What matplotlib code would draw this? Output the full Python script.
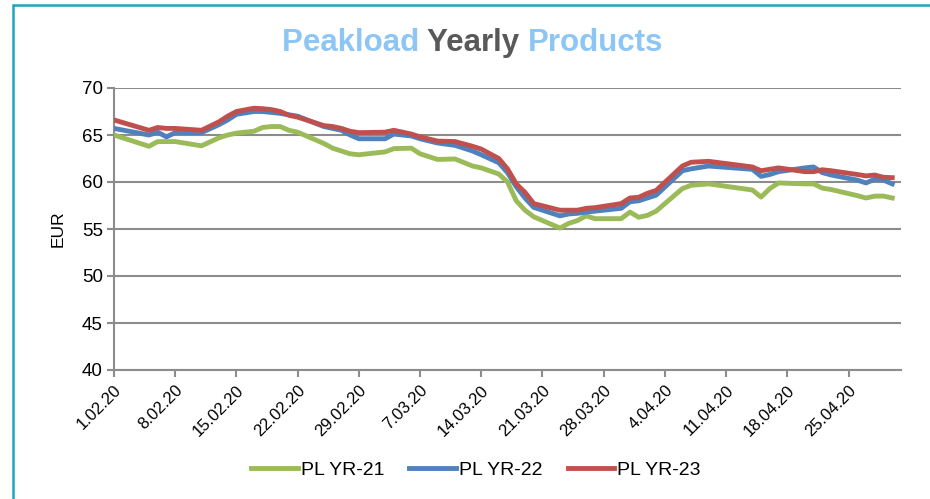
import matplotlib
matplotlib.use("Agg")
import matplotlib.pyplot as plt
from matplotlib.patches import Rectangle
import pandas as pd
from matplotlib import font_manager

names = {f.name for f in font_manager.fontManager.ttflist}
NARROW = 'Liberation Sans Narrow' if 'Liberation Sans Narrow' in names else 'Liberation Sans'

day_offsets = [0, 4, 5, 6, 7, 10, 12, 13, 14, 16, 17, 18, 19, 20, 21, 24, 25, 26, 27, 28,
               31, 32, 34, 35, 37, 39, 41, 42, 44, 45, 46, 47, 48, 51, 52, 53, 54, 55,
               58, 59, 60, 61, 62, 65, 66, 68, 73, 74, 75, 76, 79, 80, 81, 82, 85, 86, 87, 88, 89]
dates = pd.Timestamp('2020-02-01') + pd.to_timedelta(day_offsets, unit='D')

pl_yr21 = [65.0, 63.8, 64.3, 64.3, 64.3, 63.85, 64.7, 65.0, 65.2, 65.4, 65.8, 65.9, 65.9, 65.5, 65.3,
           64.1, 63.6, 63.3, 63.0, 62.9, 63.2, 63.55, 63.6, 63.0, 62.4, 62.45, 61.7, 61.5, 60.85,
           60.0, 58.0, 57.0, 56.3, 55.1, 55.6, 55.9, 56.4, 56.1, 56.1, 56.8, 56.25, 56.45, 56.9,
           59.3, 59.65, 59.8, 59.15, 58.4, 59.3, 59.9, 59.8, 59.8, 59.35, 59.2, 58.55, 58.3, 58.5,
           58.5, 58.3]
pl_yr22 = [65.7, 65.0, 65.3, 64.8, 65.25, 65.25, 66.1, 66.6, 67.2, 67.5, 67.5, 67.4, 67.3, 67.15, 67.0,
           65.9, 65.7, 65.5, 65.0, 64.6, 64.6, 65.1, 64.9, 64.6, 64.15, 63.9, 63.3, 62.9, 62.05,
           61.0, 59.5, 58.3, 57.3, 56.4, 56.6, 56.67, 56.8, 56.9, 57.2, 57.9, 58.0, 58.3, 58.6,
           61.2, 61.4, 61.7, 61.35, 60.6, 60.8, 61.1, 61.5, 61.6, 61.0, 60.75, 60.2, 59.9, 60.3,
           60.2, 59.8]
pl_yr23 = [66.6, 65.5, 65.8, 65.7, 65.7, 65.5, 66.4, 67.0, 67.5, 67.85, 67.8, 67.7, 67.5, 67.1, 66.9,
           66.0, 65.9, 65.7, 65.4, 65.25, 65.3, 65.5, 65.1, 64.8, 64.35, 64.3, 63.8, 63.5, 62.5,
           61.4, 59.8, 58.9, 57.7, 57.0, 57.0, 57.0, 57.2, 57.27, 57.7, 58.3, 58.37, 58.8, 59.1,
           61.7, 62.1, 62.2, 61.6, 61.2, 61.35, 61.5, 61.1, 61.1, 61.3, 61.2, 60.8, 60.65, 60.74,
           60.5, 60.46]

series_names = ['PL YR-21', 'PL YR-22', 'PL YR-23']
series_colors = ['#9BBB59', '#4F81BD', '#C0504D']
y_ticks = [40, 45, 50, 55, 60, 65, 70]
tick_dates = pd.date_range('2020-02-01', '2020-04-25', freq='7D')

W, H = 930, 499
fig = plt.figure(figsize=(W / 100, H / 100), dpi=100)
fig.patch.set_facecolor('white')

# outer frame
fig.patches.append(Rectangle((13 / W, -0.1), 1.2, (1 - 5 / H) + 0.1, transform=fig.transFigure,
                             fill=False, edgecolor='#1FA3BE', linewidth=1.8, zorder=0))

ax = fig.add_axes([114 / W, 1 - 370 / H, (901 - 114) / W, (370 - 88) / H])
for vals, name, col in zip([pl_yr21, pl_yr22, pl_yr23], series_names, series_colors):
    ax.plot(dates, vals, color=col, linewidth=3.5, label=name, solid_joinstyle='round', zorder=3)

ax.set_ylim(40, 70)
ax.set_yticks(y_ticks)
ax.set_xlim(pd.Timestamp('2020-02-01'), pd.Timestamp('2020-05-01'))
ax.set_xticks(tick_dates)
ax.set_xticklabels([f"{d.day}.{d.month:02d}.20" for d in tick_dates], rotation=45,
                   ha='right', va='top', rotation_mode='anchor', fontsize=12, family=NARROW)
for lbl in ax.get_yticklabels():
    lbl.set_fontsize(13.5)
    lbl.set_family(NARROW)
ax.grid(axis='y', color='#8C8C8C', linewidth=1.5)
ax.set_axisbelow(True)
for s in ['top', 'right']:
    ax.spines[s].set_visible(False)
for s in ['left', 'bottom']:
    ax.spines[s].set_color('#8C8C8C')
    ax.spines[s].set_linewidth(1.5)
ax.tick_params(axis='both', color='#8C8C8C', width=1.5, length=5, direction='out')
ax.tick_params(axis='x', pad=4)
ax.tick_params(axis='y', pad=3)
ax.set_ylabel('EUR', fontsize=12.5, family=NARROW, labelpad=12)

leg = ax.legend(loc='center', bbox_to_anchor=(476 / W, 1 - 470 / H), bbox_transform=fig.transFigure,
                ncol=3, frameon=False, handlelength=2.4, handletextpad=0.15, columnspacing=1.3,
                prop={'family': NARROW, 'size': 14})

# multi-colour title
parts = [('Peakload ', '#8DC6F5'), ('Yearly ', '#595959'), ('Products', '#8DC6F5')]
fig.canvas.draw()
r = fig.canvas.get_renderer()
texts = []
for s, c in parts:
    t = fig.text(0, 1 - 51 / H, s, color=c, fontsize=22.5, fontweight='bold', family='Liberation Sans',
                 va='baseline', ha='left')
    texts.append(t)
widths = [t.get_window_extent(r).width for t in texts]
total = sum(widths)
x0 = 472.5 - total / 2
for t, w in zip(texts, widths):
    t.set_x(x0 / W)
    x0 += w

fig.savefig('out.png', dpi=100)
